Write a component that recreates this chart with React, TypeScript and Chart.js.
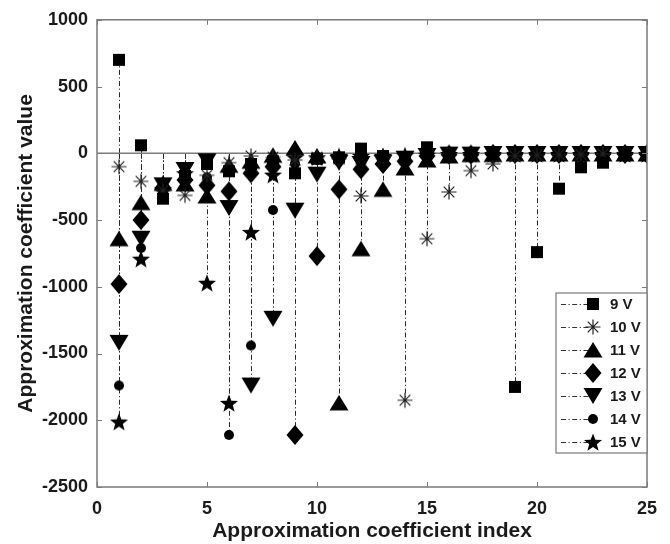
import React, { useEffect, useRef } from 'react';
import { Chart, registerables } from 'chart.js';

Chart.register(...registerables);

const indices = [1, 2, 3, 4, 5, 6, 7, 8, 9, 10, 11, 12, 13, 14, 15, 16, 17, 18, 19, 20, 21, 22, 23, 24, 25];

const v9V = [700, 60, -340, -170, -80, -135, -80, -60, -150, -40, -30, 35, -20, -30, 45, -10, -10, -10, -1750, -740, -265, -105, -70, -10, -5];
const v10V = [-100, -210, -280, -315, -165, -70, -20, -30, -50, -30, -40, -320, -20, -1850, -640, -290, -130, -80, -20, -15, -10, -10, -5, -5, -5];
const v11V = [-640, -370, -225, -230, -320, -90, -60, -15, 40, -20, -1870, -715, -270, -110, -50, -20, -10, -10, -5, -5, -5, -5, -5, -5, -5];
const v12V = [-980, -500, -260, -200, -240, -285, -150, -100, -2110, -770, -270, -120, -80, -60, -20, -10, -10, -5, -5, -5, -5, -5, -5, -5, -5];
const v13V = [-1420, -640, -240, -125, -60, -410, -1740, -1240, -430, -160, -70, -80, -70, -40, -20, -10, -10, -5, -5, -5, -5, -5, -5, -5, -5];
const v14V = [-1740, -710, -300, -210, -180, -2110, -1440, -425, -80, -50, -60, -40, -30, -20, -10, -10, -5, -5, -5, -5, -5, -5, -5, -5, -5];
const v15V = [-2010, -790, -270, -150, -970, -1870, -590, -160, -30, -30, -20, -20, -20, -15, -10, -5, -5, -5, -5, -5, -5, -5, -5, -5, -5];

const seriesLabels = ['9 V', '10 V', '11 V', '12 V', '13 V', '14 V', '15 V'];
const seriesValues = [v9V, v10V, v11V, v12V, v13V, v14V, v15V];
const markerKinds = ['square', 'asterisk', 'up', 'diamond', 'down', 'circle', 'star'];

const xTicks = [0, 5, 10, 15, 20, 25];
const yTicks = [-2500, -2000, -1500, -1000, -500, 0, 500, 1000];

const FONT = '"Liberation Sans", Arial, sans-serif';

function makeMarker(kind: string): HTMLCanvasElement {
  const c = document.createElement('canvas');
  c.width = 24;
  c.height = 24;
  const g = c.getContext('2d')!;
  const m = 12;
  g.fillStyle = '#000';
  g.strokeStyle = '#222';
  g.beginPath();
  if (kind === 'square') {
    g.rect(m - 6, m - 6, 12, 12);
    g.fill();
  } else if (kind === 'asterisk') {
    g.lineWidth = 1.2;
    const r = 7.5;
    for (let k = 0; k < 4; k++) {
      const a = (k * Math.PI) / 4;
      g.moveTo(m - r * Math.cos(a), m - r * Math.sin(a));
      g.lineTo(m + r * Math.cos(a), m + r * Math.sin(a));
    }
    g.stroke();
  } else if (kind === 'up') {
    g.moveTo(m, m - 8);
    g.lineTo(m + 9.5, m + 7.5);
    g.lineTo(m - 9.5, m + 7.5);
    g.closePath();
    g.fill();
  } else if (kind === 'down') {
    g.moveTo(m, m + 8);
    g.lineTo(m + 9.5, m - 8);
    g.lineTo(m - 9.5, m - 8);
    g.closePath();
    g.fill();
  } else if (kind === 'diamond') {
    g.moveTo(m, m - 10);
    g.lineTo(m + 8.5, m);
    g.lineTo(m, m + 10);
    g.lineTo(m - 8.5, m);
    g.closePath();
    g.fill();
  } else if (kind === 'circle') {
    g.arc(m, m, 5, 0, Math.PI * 2);
    g.fill();
  } else if (kind === 'star') {
    const ro = 9.5;
    const ri = 4;
    for (let k = 0; k < 10; k++) {
      const r = k % 2 === 0 ? ro : ri;
      const a = -Math.PI / 2 + (k * Math.PI) / 5;
      const px = m + r * Math.cos(a);
      const py = m + 1 + r * Math.sin(a);
      if (k === 0) g.moveTo(px, py);
      else g.lineTo(px, py);
    }
    g.closePath();
    g.fill();
  }
  return c;
}

export default function App() {
  const ref = useRef<HTMLCanvasElement | null>(null);

  useEffect(() => {
    document.body.style.margin = '0';
    const canvas = ref.current;
    if (!canvas) return;
    const markers = markerKinds.map(makeMarker);

    const stemPlugin = {
      id: 'stems',
      beforeDatasetsDraw(chart: any) {
        const ctx = chart.ctx;
        const xs = chart.scales.x;
        const ys = chart.scales.y;
        const y0 = ys.getPixelForValue(0);
        ctx.save();
        ctx.strokeStyle = '#2a2a2a';
        ctx.lineWidth = 1;
        ctx.setLineDash([5, 2.5, 1.2, 2.5]);
        chart.data.datasets.forEach((_: any, di: number) => {
          const meta = chart.getDatasetMeta(di);
          meta.data.forEach((pt: any) => {
            const x = Math.round(pt.x) + 0.5;
            ctx.beginPath();
            ctx.moveTo(x, y0);
            ctx.lineTo(x, pt.y);
            ctx.stroke();
          });
        });
        ctx.setLineDash([]);
        ctx.strokeStyle = '#7a7a7a';
        ctx.lineWidth = 1.5;
        ctx.beginPath();
        ctx.moveTo(xs.left, y0);
        ctx.lineTo(xs.right, y0);
        ctx.stroke();
        ctx.restore();
      },
      afterDraw(chart: any) {
        const ctx = chart.ctx;
        const xs = chart.scales.x;
        const ys = chart.scales.y;
        const { left, right, top, bottom } = chart.chartArea;
        ctx.save();
        ctx.strokeStyle = '#7a7a7a';
        ctx.lineWidth = 1.5;
        ctx.strokeRect(left, top, right - left, bottom - top);
        ctx.lineWidth = 1;
        ctx.beginPath();
        xTicks.forEach((t) => {
          const x = Math.round(xs.getPixelForValue(t)) + 0.5;
          ctx.moveTo(x, bottom);
          ctx.lineTo(x, bottom - 5);
          ctx.moveTo(x, top);
          ctx.lineTo(x, top + 5);
        });
        yTicks.forEach((t) => {
          const y = Math.round(ys.getPixelForValue(t)) + 0.5;
          ctx.moveTo(left, y);
          ctx.lineTo(left + 5, y);
          ctx.moveTo(right, y);
          ctx.lineTo(right - 5, y);
        });
        ctx.stroke();

        // legend
        const lx = 556;
        const ly = 293;
        const lw = right - lx;
        const lh = 160;
        ctx.fillStyle = '#fff';
        ctx.fillRect(lx, ly, lw, lh);
        ctx.strokeStyle = '#7a7a7a';
        ctx.lineWidth = 1.2;
        ctx.strokeRect(lx, ly, lw, lh);
        seriesLabels.forEach((lab, i) => {
          const yy = ly + 11 + i * 23;
          ctx.strokeStyle = '#333';
          ctx.lineWidth = 1;
          ctx.setLineDash([5, 2.5, 1.2, 2.5]);
          ctx.beginPath();
          ctx.moveTo(lx + 5, yy + 0.5);
          ctx.lineTo(lx + 34, yy + 0.5);
          ctx.stroke();
          ctx.setLineDash([]);
          const mk = markers[i];
          ctx.drawImage(mk, lx + 37 - mk.width / 2, yy - mk.height / 2);
          ctx.fillStyle = '#1a1a1a';
          ctx.font = `bold 15px ${FONT}`;
          ctx.textAlign = 'left';
          ctx.textBaseline = 'middle';
          ctx.fillText(lab, lx + 54, yy + 1);
        });
        ctx.restore();
      },
    };

    const chart = new Chart(canvas, {
      type: 'scatter',
      data: {
        datasets: seriesValues.map((vals, i) => ({
          label: seriesLabels[i],
          data: indices.map((x, k) => ({ x, y: vals[k] })),
          pointStyle: markers[i],
          pointRadius: 9,
          showLine: false,
          backgroundColor: '#000',
          borderColor: '#000',
        })),
      },
      options: {
        animation: false,
        responsive: false,
        devicePixelRatio: 1,
        layout: { padding: { top: 16, right: 23, left: 0, bottom: 0 } },
        plugins: {
          legend: { display: false },
          tooltip: { enabled: false },
        },
        scales: {
          x: {
            type: 'linear',
            min: 0,
            max: 25,
            afterBuildTicks: (s: any) => {
              s.ticks = xTicks.map((v) => ({ value: v }));
            },
            afterFit: (s: any) => {
              s.height = 57;
            },
            grid: { display: false, drawTicks: false },
            border: { display: false },
            ticks: {
              color: '#1a1a1a',
              padding: 11,
              font: { family: FONT, size: 18, weight: 'bold' },
              maxRotation: 0,
              callback: (v: any) => String(v),
            },
            title: {
              display: true,
              text: 'Approximation coefficient index',
              color: '#1a1a1a',
              font: { family: FONT, size: 21, weight: 'bold' },
              padding: { top: 0, bottom: 0 },
            },
          },
          y: {
            type: 'linear',
            min: -2500,
            max: 1000,
            afterBuildTicks: (s: any) => {
              s.ticks = yTicks.map((v) => ({ value: v }));
            },
            afterFit: (s: any) => {
              s.width = 97;
            },
            grid: { display: false, drawTicks: false },
            border: { display: false },
            ticks: {
              color: '#1a1a1a',
              padding: 9,
              font: { family: FONT, size: 18, weight: 'bold' },
              callback: (v: any) => String(v),
            },
            title: {
              display: true,
              text: 'Approximation coefficient value',
              color: '#1a1a1a',
              font: { family: FONT, size: 21, weight: 'bold' },
              padding: { top: 14, bottom: 0 },
            },
          },
        },
      },
      plugins: [stemPlugin],
    });

    return () => chart.destroy();
  }, []);

  return (
    <div style={{ position: 'absolute', left: 0, top: 0, width: 670, height: 544 }}>
      <canvas ref={ref} width={670} height={544} />
    </div>
  );
}
